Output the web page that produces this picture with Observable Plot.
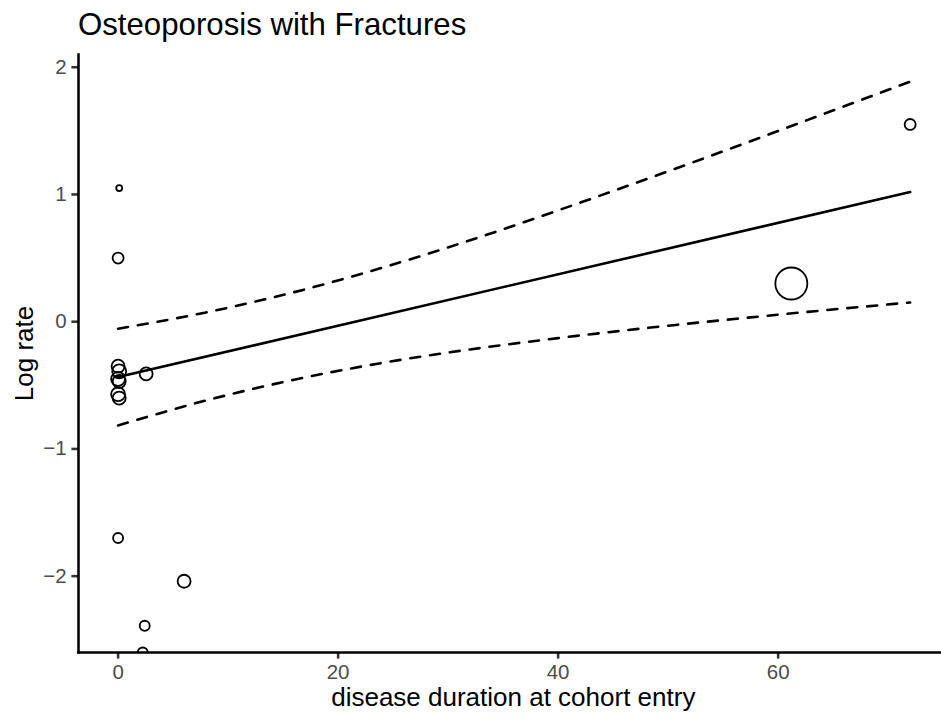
<!DOCTYPE html>
<html><head><meta charset="utf-8">
<script src="https://cdn.jsdelivr.net/npm/d3@7"></script>
<script src="https://cdn.jsdelivr.net/npm/@observablehq/plot@0.6"></script>
<style>
body{margin:0;background:#fff;font-family:"Liberation Sans",Arial,Helvetica,sans-serif;overflow:hidden}
#title{height:46px;position:relative;width:941px}
#title span{position:absolute;left:78px;top:8.8px;font-size:31.2px;line-height:1;color:#000;white-space:nowrap}
#chart svg{display:block}
</style></head><body>
<div id="title"><span>Osteoporosis with Fractures</span></div>
<div id="chart"></div>
<script>
// study points: disease duration at cohort entry, log rate, study weight
const duration = [0.1, 0.0, 0.0, 0.1, 0.0, 0.1, 0.0, 0.1, 2.55, 0.0, 6.0, 2.42, 2.24, 61.2, 72.0];
const logRate  = [1.05, 0.50, -0.35, -0.39, -0.45, -0.47, -0.57, -0.60, -0.41, -1.70, -2.04, -2.39, -2.60, 0.30, 1.55];
const weight   = [3.5, 11.8, 16.5, 19, 19, 16.5, 19, 16.5, 16.5, 9.8, 16.5, 9.8, 9.8, 100, 11.8];

// fitted meta-regression line
const fitX = [0, 72];
const fitY = [-0.435, 1.019];

// confidence band
const ciX     = [0, 8, 16, 24, 32, 40, 48, 56, 64, 72];
const ciUpper = [-0.055, 0.073, 0.232, 0.424, 0.640, 0.875, 1.120, 1.371, 1.628, 1.887];
const ciLower = [-0.815, -0.619, -0.456, -0.324, -0.218, -0.129, -0.050, 0.021, 0.088, 0.151];

const xTicks = [0, 20, 40, 60];
const yTicks = [-2, -1, 0, 1, 2];
const xDomain = [-3.6, 74.85];
const yDomain = [-2.6, 2.1];

const points = duration.map((d, i) => ({x: d, y: logRate[i], w: weight[i]}));
const fit = fitX.map((d, i) => ({x: d, y: fitY[i]}));
const upper = ciX.map((d, i) => ({x: d, y: ciUpper[i]}));
const lower = ciX.map((d, i) => ({x: d, y: ciLower[i]}));

const minus = d => String(d).replace("-", "\u2212");

const chart = Plot.plot({
  width: 941,
  height: 675,
  marginTop: 8,
  marginLeft: 78,
  marginRight: 0,
  marginBottom: 69,
  style: {fontFamily: "'Liberation Sans', Arial, Helvetica, sans-serif", background: "#fff", fontSize: "20.5px"},
  x: {domain: xDomain},
  y: {domain: yDomain},
  r: {type: "sqrt", domain: [0, 100], range: [0, 16]},
  marks: [
    Plot.dot(points, {x: "x", y: "y", r: "w", stroke: "black", fill: "none", strokeWidth: 1.8, clip: true}),
    Plot.line(fit, {x: "x", y: "y", stroke: "black", strokeWidth: 2.6}),
    Plot.line(upper, {x: "x", y: "y", stroke: "black", strokeWidth: 2.6, strokeDasharray: "10,10", curve: "monotone-x"}),
    Plot.line(lower, {x: "x", y: "y", stroke: "black", strokeWidth: 2.6, strokeDasharray: "10,10", curve: "monotone-x"}),
    Plot.axisX({ticks: xTicks, tickSize: 6.6, tickPadding: 5.3, fontSize: 20.5, fill: "#4D4D4D", stroke: "#333333", strokeWidth: 2.56, label: null, tickFormat: minus}),
    Plot.axisY({ticks: yTicks, tickSize: 6.6, tickPadding: 5.3, fontSize: 20.5, fill: "#4D4D4D", stroke: "#333333", strokeWidth: 2.56, label: null, tickFormat: minus}),
    Plot.frame({anchor: "left", stroke: "black", strokeWidth: 2.56}),
    Plot.frame({anchor: "bottom", stroke: "black", strokeWidth: 2.56}),
    Plot.text(["disease duration at cohort entry"], {text: d => d, frameAnchor: "bottom", lineAnchor: "middle", textAnchor: "middle", dy: 45.5, dx: 3.3, fontSize: 26, fill: "black"}),
    Plot.text(["Log rate"], {text: d => d, frameAnchor: "left", lineAnchor: "middle", textAnchor: "middle", rotate: -90, dx: -53.45, fontSize: 26, fill: "black"})
  ]
});
document.getElementById("chart").appendChild(chart);
</script>
</body></html>
